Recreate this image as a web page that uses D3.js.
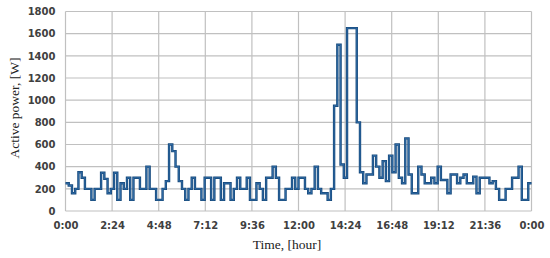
<!DOCTYPE html>
<html>
<head>
<meta charset="utf-8">
<script src="https://cdn.jsdelivr.net/npm/d3@7"></script>
<style>
html,body{margin:0;padding:0;background:#fff;}
svg{display:block;}
</style>
</head>
<body>
<svg id="chart" width="550" height="258"></svg>
<script>
// 10-minute samples of active power [W], 0:00 .. 23:50
const power = [
 250,230,160,200,350,300,200,200,100,200,
 200,345,290,160,200,345,100,250,200,300,
 100,300,300,200,200,400,200,200,100,100,
 200,270,600,540,400,270,200,100,200,300,
 200,200,100,300,300,100,300,300,100,250,
 250,100,200,300,200,200,300,100,100,250,
 200,100,300,300,400,300,100,100,200,200,
 300,200,300,300,200,160,200,400,200,160,
 160,100,200,950,1500,420,300,1650,1650,1650,
 800,350,250,330,330,500,400,300,450,270,
 500,350,600,300,250,655,330,160,160,400,
 330,250,250,300,250,400,280,280,160,330,
 330,250,300,330,250,250,310,160,300,300,
 300,250,270,200,100,100,200,200,300,300,
 400,100,100,250
];
const stepMinutes = 10;
const yTicks = [0,200,400,600,800,1000,1200,1400,1600,1800];
const xTickLabels = ["0:00","2:24","4:48","7:12","9:36","12:00","14:24","16:48","19:12","21:36","0:00"];
const xTickHours = [0,2.4,4.8,7.2,9.6,12,14.4,16.8,19.2,21.6,24];

const svg = d3.select("#chart");
const m = {left:65.5, right:531.5, top:11.5, bottom:211};

const x = d3.scaleLinear().domain([0,24]).range([m.left, m.right]);
const y = d3.scaleLinear().domain([0,1800]).range([m.bottom, m.top]);

// gridlines
const grid = svg.append("g").attr("stroke","#c0c0c0").attr("stroke-width",1.2);
grid.selectAll("line.h").data(yTicks).enter().append("line")
  .attr("x1",m.left).attr("x2",m.right)
  .attr("y1",d=>y(d)).attr("y2",d=>y(d));
grid.selectAll("line.v").data(xTickHours).enter().append("line")
  .attr("y1",m.top).attr("y2",m.bottom)
  .attr("x1",d=>x(d)).attr("x2",d=>x(d));

// y axis labels
const yAxis = d3.axisLeft(y).tickValues(yTicks).tickSize(0).tickPadding(10)
  .tickFormat(d3.format("d"));
const gy = svg.append("g").attr("transform",`translate(${m.left},0)`).call(yAxis);
gy.select(".domain").remove();
gy.selectAll("text").attr("font-family","DejaVu Sans").attr("font-weight","bold")
  .attr("font-size","10px").attr("fill","#404040");

// x axis labels
const xAxis = d3.axisBottom(x).tickValues(xTickHours).tickSize(0).tickPadding(11)
  .tickFormat((d,i)=>xTickLabels[i]);
const gx = svg.append("g").attr("transform",`translate(0,${m.bottom})`).call(xAxis);
gx.select(".domain").remove();
gx.selectAll("text").attr("font-family","DejaVu Sans").attr("font-weight","bold")
  .attr("font-size","10px").attr("fill","#404040");

// data line
const pts = power.map((v,i)=>[i*stepMinutes/60, v]);
pts.push([24, power[power.length-1]]);
const line = d3.line().x(d=>x(d[0])).y(d=>y(d[1])).curve(d3.curveStepAfter);
svg.append("path").datum(pts).attr("d",line)
  .attr("fill","none").attr("stroke","#174a7c").attr("stroke-width",2.4)
  .attr("stroke-linejoin","miter");
svg.append("path").datum(pts).attr("d",line)
  .attr("fill","none").attr("stroke","#3f7fbf").attr("stroke-width",0.6);

// axis titles
svg.append("text").attr("x",287).attr("y",249)
  .attr("text-anchor","middle").attr("font-family","Liberation Serif")
  .attr("font-size","13.5px").attr("fill","#222").text("Time, [hour]");
svg.append("text").attr("transform","translate(19,108) rotate(-90)")
  .attr("text-anchor","middle").attr("font-family","Liberation Serif")
  .attr("font-size","13.5px").attr("fill","#222").text("Active power, [W]");
</script>
</body>
</html>
